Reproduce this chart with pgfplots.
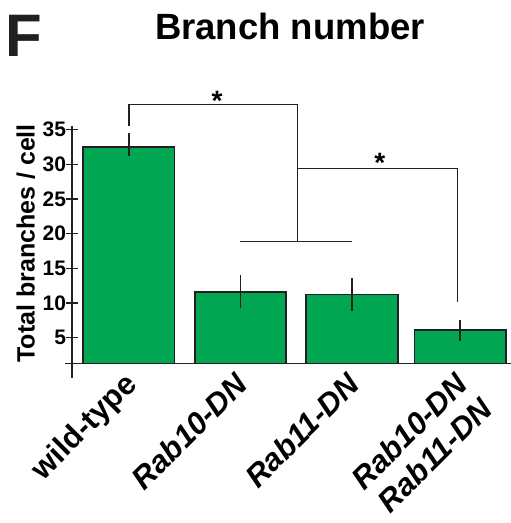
\documentclass[border=0pt]{standalone}
\usepackage{fontspec}
\setmainfont{Liberation Sans}
\usepackage{pgfplots}
\pgfplotsset{compat=1.18}
\definecolor{barg}{RGB}{0,166,81}
\definecolor{dk}{RGB}{35,31,32}
\begin{document}
\begin{tikzpicture}
\begin{axis}[
  at={(0pt,0pt)}, anchor=south west,
  scale only axis, width=439pt, height=237.7pt,
  xmin=-0.511, xmax=3.426, ymin=1.25, ymax=35.5,
  axis x line=bottom, axis y line=left,
  axis line style={-, line width=1.5pt, dk},
  clip mode=individual,
  xtick={0,1,2,2.97},
  xticklabels={wild-type, \textit{Rab10-DN}, \textit{Rab11-DN}, {\textit{Rab10-DN}\\\textit{Rab11-DN}}},
  xtick style={draw=none},
  xticklabel style={rotate=45, anchor=north east, align=right, inner sep=0pt, font=\fontsize{31}{35}\selectfont\bfseries, xshift=-5pt, yshift=4pt},
  ytick={5,10,...,35},
  ytick style={line width=1.3pt, dk},
  tick align=center, major tick length=11pt,
  yticklabel style={font=\fontsize{21}{21}\selectfont\bfseries, xshift=3pt},
  /pgf/number format/assume math mode=true,
  ylabel={Total branches / cell},
  ylabel style={at={(axis description cs:-0.105,0.506)}, anchor=center, font=\fontsize{25}{25}\selectfont\bfseries},
]
\addplot[ybar, bar width=0.82, fill=barg, draw=dk, line width=1.6pt,
  error bars/.cd, y dir=both, y explicit, error mark=none,
  error bar style={line width=1.7pt, dk}]
  coordinates {
    (0,32.5) += (0,1.95) -= (0,1.35)
    (1,11.6) += (0,2.45) -= (0,2.35)
    (2,11.25) += (0,2.3) -= (0,2.35)
    (2.97,6.1) += (0,1.45) -= (0,1.58)
  };
\draw[line width=1.5pt, dk] (axis cs:-0.511,1.25) -- (axis cs:-0.511,-0.8);
\draw[line width=1.5pt, dk] (axis cs:-0.574,1.25) -- (axis cs:-0.511,1.25);
\draw[line width=1.2pt, dk] (axis cs:0,35.5) |- (axis cs:1.509,38.6) -- (axis cs:1.509,18.9);
\draw[line width=1.2pt, dk] (axis cs:1,18.9) -- (axis cs:2,18.9);
\draw[line width=1.2pt, dk] (axis cs:1.509,29.35) -| (axis cs:2.948,10.2);
\node[font=\fontsize{28}{28}\selectfont\bfseries, inner sep=0] at (axis cs:0.79,39.15) {*};
\node[font=\fontsize{28}{28}\selectfont\bfseries, inner sep=0] at (axis cs:2.25,30.2) {*};
\end{axis}
\pgfresetboundingbox
\useasboundingbox (-72pt,-159.3pt) rectangle (439pt,363.7pt);
\node[anchor=base west, font=\fontsize{60}{60}\selectfont\bfseries, text=dk, inner sep=0] at (-66.4pt,306.7pt) {F};
\node[anchor=base, font=\fontsize{36.5}{36.5}\selectfont\bfseries, inner sep=0] at (218pt,323.7pt) {Branch number};
\end{tikzpicture}
\end{document}
